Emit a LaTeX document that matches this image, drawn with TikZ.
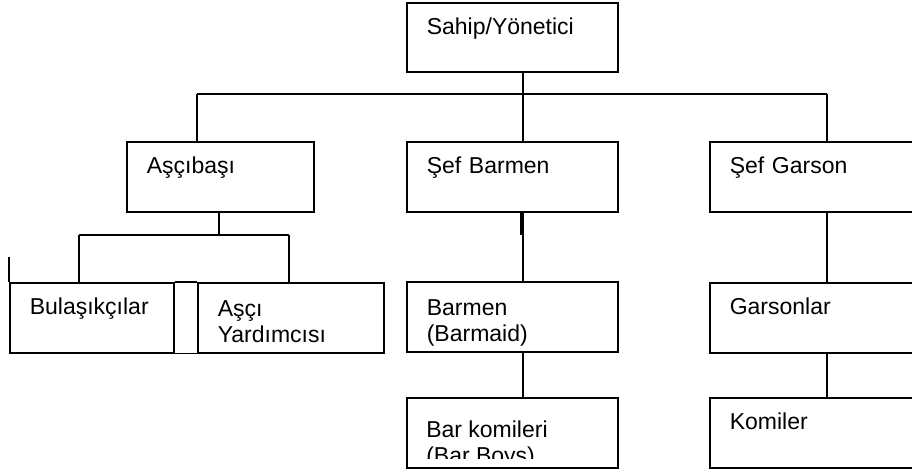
\documentclass[tikz,border=0pt]{standalone}
\usepackage{fontspec}
\setmainfont{Liberation Sans}
\begin{document}
\begin{tikzpicture}[x=0.75pt,y=-0.75pt,
  box/.style={draw, line width=1.2pt, anchor=north west,
    inner xsep=15pt, inner ysep=0pt, align=left,
    text width=#1, text height=24pt, text depth=28.5pt,
    font=\fontsize{17.25pt}{19.5pt}\selectfont},
  twoline/.style={text height=25.5pt, text depth=27pt},
  label/.style={anchor=base west, inner sep=0pt, align=left,
    font=\fontsize{17.25pt}{19.5pt}\selectfont},
  link/.style={line width=1pt}]
\useasboundingbox (0,0) rectangle (912,474);
\clip (0,0) rectangle (912,474);

% boxes of the chart
\node[box=128.25pt, text depth=27.75pt] (owner) at (406,2) {Sahip/Yönetici};
\node[box=110.25pt] (chef)   at (126,141) {Aşçıbaşı};
\node[box=128.25pt] (bhead)  at (406,141) {Şef Barmen};
\node[box=150.75pt] (whead)  at (709,141) {Şef Garson};
\node[box=93pt]     (wash)   at (9,282)   {Bulaşıkçılar};
\node[box=109.5pt, twoline]  (cook)   at (197,282) {Aşçı\\Yardımcısı};
\node[box=128.25pt, twoline] (barman) at (406,281) {Barmen\\(Barmaid)};
\node[box=128.25pt] (barboy) at (406,397) {};
\node[box=150.75pt] (waiter) at (709,282) {Garsonlar};
\node[box=150.75pt] (commis) at (709,397) {Komiler};

% the bar boys' text sits low and is cut off inside the box
\coordinate (cutline) at (0,458);
\begin{scope}
  \clip (barboy.north west) rectangle (barboy.east |- cutline);
  \node[label] (barboytext) at ([xshift=15pt,yshift=-49.5pt]barboy.north west)
    {Bar komileri\\(Bar Boys)};
\end{scope}

% junction points of the tree
\coordinate (jm) at (523,94);
\coordinate (jl) at (197,94);
\coordinate (jr) at (827,94);
\coordinate (kc) at (219,235);
\coordinate (kl) at (79,235);
\coordinate (kr) at (289,235);
\coordinate (barjoin) at (521.5,235);

% first level
\draw[link] (jm |- owner.south) -- (jm);
\draw[link] (jl) -- (jr);
\draw[link] (jl) -- (jl |- chef.north);
\draw[link] (jm) -- (jm |- bhead.north);
\draw[link] (jr) -- (jr |- whead.north);

% kitchen branch
\draw[link] (kc |- chef.south) -- (kc);
\draw[link] (kl) -- (kr);
\draw[link] (kl) -- (kl |- wash.north);
\draw[link] (kr) -- (kr |- cook.north);
\draw[line width=1.2pt] (wash.north east) -- (cook.north west);
\draw[line width=1.2pt] (wash.south east) -- (cook.south west);
\draw[link] (wash.north west) -- ++(0,-25);

% bar branch
\draw[link] (jm |- bhead.south) -- (jm |- barman.north);
\draw[line width=2pt] (barjoin |- bhead.south) -- (barjoin);
\draw[link] (jm |- barman.south) -- (jm |- barboy.north);

% service branch
\draw[link] (jr |- whead.south) -- (jr |- waiter.north);
\draw[link] (jr |- waiter.south) -- (jr |- commis.north);
\end{tikzpicture}
\end{document}
